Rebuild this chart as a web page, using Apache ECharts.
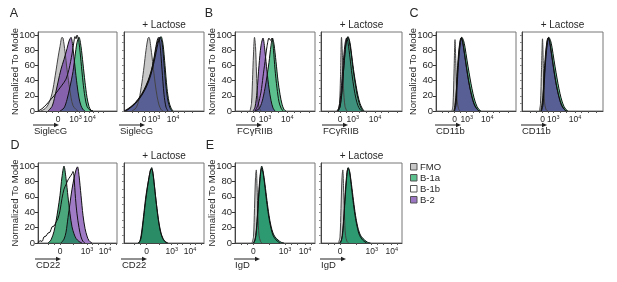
<!DOCTYPE html>
<html>
<head>
<meta charset="utf-8">
<script src="https://cdn.jsdelivr.net/npm/echarts@6/dist/echarts.min.js"></script>
<style>html,body{margin:0;padding:0;background:#fff}#main{width:617px;height:282px}</style>
</head>
<body>
<div id="main"></div>
<script>
// y ticks (normalized to mode), x tick labels
var yTicks = [0, 20, 40, 60, 80, 100];
var xTickNames = ['0', '10^3', '10^4'];
var legendNames = ['FMO', 'B-1a', 'B-1b', 'B-2'];
var legendColors = ['#c8c8c8', '#5cc08e', '#ffffff', '#9b76c2'];
var markers = ['SiglecG', 'SiglecG', 'FCγRIIB', 'FCγRIIB', 'CD11b', 'CD11b', 'CD22', 'CD22', 'IgD', 'IgD'];
// where 0, 10^3, 10^4 sit on each plot's channel scale
var xTickPos = [[20, 37.5, 51.5], [20, 30, 49], [18.3, 30, 52.3], [19, 31.7, 54], [18.5, 30.7, 51.3],
                [20.7, 31.3, 53], [22, 49, 67], [22.7, 47.7, 66], [18.3, 50, 70], [19, 50.7, 70.7]];

// histograms, [channel, % of mode]
// A: SiglecG
var aL_fmo = [[3,0],[7,3],[10,8],[13,18],[15,29],[18,53],[20,70],[22,85],[24,97],[25,96],[27,78],[29,55],[31,35],[33,18],[35,7],[38,2],[40,0]];
var aL_b1a = [[22,0],[26,4],[29,15],[32,32],[35,52],[37,72],[39,90],[41,97],[43,85],[45,62],[47,38],[49,18],[51,6],[53,1],[55,0]];
var aL_b1b = [[0,0],[4,3],[8,8],[12,14],[16,20],[20,27],[24,34],[28,42],[31,55],[34,75],[36,92],[37,98],[38,95],[39,100],[41,90],[43,65],[45,38],[47,18],[49,6],[52,1],[55,0]];
var aL_b2 = [[10,0],[14,6],[17,20],[20,38],[23,55],[26,68],[29,82],[31,92],[33,97],[35,82],[37,58],[39,35],[41,17],[43,7],[45,2],[47,0]];
var aR_fmo = [[8,0],[12,4],[15,15],[18,38],[20,58],[22,80],[24,96],[25,97],[27,82],[29,60],[31,38],[33,20],[35,8],[37,2],[39,0]];
var aR_b1a = [[1,0],[5,3],[9,7],[13,12],[17,19],[21,28],[25,40],[28,53],[31,70],[33,83],[35,94],[37,98],[39,88],[41,60],[43,30],[45,12],[47,4],[49,0]];
var aR_b1b = [[2,0],[6,4],[10,9],[14,15],[18,22],[22,32],[26,46],[29,62],[31,78],[33,92],[34.5,97],[36,88],[38,55],[40,22],[42,5],[44,0]];
var aR_b2 = [[0,0],[4,3],[8,7],[12,12],[16,19],[20,28],[24,40],[27,52],[30,68],[32,82],[34,93],[36,97],[38,90],[40,62],[42,32],[44,13],[46,4],[48,0]];
// B: FCgRIIB
var bL_fmo = [[15,0],[16.5,10],[17.5,40],[18.5,75],[19.5,97],[20.5,85],[21.5,50],[22.5,20],[24,5],[26,0]];
var bL_b1a = [[20,0],[24,3],[27,12],[30,30],[32,46],[34,64],[36,86],[37.5,96],[39,88],[41,65],[43,40],[45,22],[47,9],[49,2],[51,0]];
var bL_b1b = [[20,0],[23,8],[26,25],[28,45],[30,65],[32,85],[34,96],[35.5,93],[37,96],[38.5,80],[40,55],[42,30],[44,12],[46,4],[48,0]];
var bL_b2 = [[18,0],[20,5],[22,25],[24,60],[26,86],[28,96],[30,78],[32,52],[34,30],[36,14],[38,4],[40,0]];
var bR_fmo = [[17,0],[18.5,10],[19.5,45],[20.5,97],[21.5,70],[22.5,30],[24,6],[26,0]];
var bR_b1a = [[17,0],[19,5],[21,25],[23,60],[25,88],[27,98],[29,90],[31,70],[33,50],[35,34],[37,20],[39,10],[41,4],[43,0]];
var bR_b1b = [[17,0],[19,6],[21,28],[23,62],[25,90],[26.5,97],[28,93],[30,78],[32,56],[34,38],[36,22],[38,11],[40,4],[42,0]];
var bR_b2 = [[16,0],[18,5],[20,25],[22,60],[24,88],[25.5,96],[27,90],[29,70],[31,48],[33,30],[35,16],[37,7],[39,2],[41,0]];
// C: CD11b
var cL_fmo = [[16,0],[17,8],[18,50],[19,94],[20,55],[21,15],[22.5,3],[24,0]];
var cL_b1a = [[18.5,0],[20,8],[21.5,42],[23,72],[24.5,90],[25.8,97],[27.5,93],[29,84],[31,67],[33,51],[35,36],[37,23],[39,13],[41,6],[43,2],[45,0]];
var cL_b1b = [[18,0],[20,20],[22,60],[24,90],[25.5,97],[27,88],[29,70],[31,52],[33,36],[35,24],[37,14],[39,7],[41,3],[43,0]];
var cL_b2 = [[18,0],[19.5,8],[21,45],[22.5,75],[24,92],[25,96],[26.5,92],[28,80],[30,62],[32,45],[34,30],[36,18],[38,9],[40,4],[42,1],[44,0]];
var cR_fmo = [[17.5,0],[18.5,10],[19.5,55],[20.5,95],[21.5,50],[22.5,12],[24,2],[26,0]];
var cR_b1a = [[19.5,0],[21,8],[22.5,42],[24,72],[25.5,90],[26.8,97],[28.5,93],[30,84],[32,67],[34,51],[36,36],[38,23],[40,13],[42,6],[44,2],[46,0]];
var cR_b1b = [[19,0],[21,20],[23,60],[25,90],[26.5,97],[28,88],[30,70],[32,52],[34,36],[36,24],[38,14],[40,7],[42,3],[44,0]];
var cR_b2 = [[19,0],[20.5,8],[22,45],[23.5,75],[25,92],[26,96],[27.5,92],[29,80],[31,62],[33,45],[35,30],[37,18],[39,9],[41,4],[43,1],[45,0]];
// D: CD22
var dL_b1a = [[10,0],[13,4],[16,15],[18,28],[20,44],[22,62],[24,86],[26,100],[28,84],[30,60],[32,38],[34,21],[36,12],[38,6],[41,2],[44,0]];
var dL_b1b = [[0,0],[2,3],[4,2],[6,8],[8,9],[10,13],[12,14],[14,21],[16,22],[18,27],[20,32],[22,42],[24,58],[26,70],[28,76],[30,82],[32,86],[34,90],[35,93],[36,86],[37.5,58],[39,38],[41,20],[43,8],[45,2],[47,0]];
var dL_b2 = [[23,0],[26,5],[28,14],[30,33],[32,52],[34,70],[36,84],[38,95],[39.5,99],[41,88],[43,62],[45,36],[47,19],[49,9],[51,3],[54,0]];
var dR_b1a = [[14,0],[16,3],[18,18],[20,40],[22,62],[24,78],[26,92],[27.7,98],[29,90],[31,67],[33,45],[35,26],[37,13],[39,6],[41,2],[44,0]];
var dR_b1b = [[15,0],[17,6],[19,25],[21,48],[23,68],[25,85],[27,96],[28.5,94],[30,80],[32,55],[34,33],[36,17],[38,8],[40,3],[43,0]];
// E: IgD
var eL_fmo = [[17,0],[18.5,8],[19.5,45],[20.5,85],[21.3,95],[22,75],[23,35],[24,10],[25.5,2],[27,0]];
var eL_b1a = [[18,0],[20,4],[22,28],[24,70],[25.5,92],[26.7,100],[28,94],[30,76],[32,55],[34,36],[36,22],[38,13],[40,8],[43,4],[46,1],[49,0]];
var eL_b1b = [[19,0],[21,10],[23,45],[25,82],[26.5,97],[28,92],[30,72],[32,50],[34,32],[36,19],[38,10],[41,4],[45,0]];
var eR_fmo = [[17.5,0],[19,8],[20,45],[21,85],[21.8,95],[22.5,75],[23.5,35],[24.5,10],[26,2],[27.5,0]];
var eR_b1a = [[18.5,0],[20.5,4],[22.5,28],[24.5,70],[26,92],[27.2,98],[28.5,94],[30.5,76],[32.5,55],[34.5,36],[36.5,22],[38.5,13],[40.5,8],[43.5,4],[46.5,1],[49.5,0]];
var eR_b1b = [[19.5,0],[21.5,10],[23.5,45],[25.5,82],[27,97],[28.5,93],[30.5,72],[32.5,50],[34.5,32],[36.5,19],[38.5,10],[41.5,4],[45.5,0]];

var FMO = {fill: '#c8c8c8', line: '#444'};
var GREEN = {fill: '#5cc08e'};
var PURPLE = {fill: '#561899', op: 0.58};   // see-through, turns navy over green
var OPEN = {};

// plot boxes, left to right, top row then bottom row
var plots = [
  {left: 38, top: 32, width: 79, height: 79, ax: -5, layers: [[aL_fmo, FMO], [aL_b1a, GREEN], [aL_b2, PURPLE], [aL_b1b, OPEN]]},
  {left: 124, top: 32, width: 80, height: 79, ax: -5, lactose: true, layers: [[aR_fmo, FMO], [aR_b1a, GREEN], [aR_b2, PURPLE], [aR_b1b, OPEN]]},
  {left: 235, top: 32, width: 80, height: 79, ax: 1, layers: [[bL_fmo, FMO], [bL_b1a, GREEN], [bL_b2, PURPLE], [bL_b1b, OPEN]]},
  {left: 321, top: 32, width: 81, height: 79, ax: 1, lactose: true, layers: [[bR_fmo, FMO], [bR_b2, {fill: '#9b76c2'}], [bR_b1a, {fill: '#2e9670', op: 0.85}], [bR_b1b, OPEN]]},
  {left: 436, top: 32, width: 80, height: 79, ax: -1, layers: [[cL_fmo, FMO], [cL_b1a, GREEN], [cL_b2, PURPLE], [cL_b1b, OPEN]]},
  {left: 522, top: 32, width: 81, height: 79, ax: -1, lactose: true, layers: [[cR_fmo, FMO], [cR_b1a, GREEN], [cR_b2, PURPLE], [cR_b1b, OPEN]]},
  {left: 38, top: 163, width: 79, height: 80, ax: -3, layers: [[dL_b2, {fill: '#a07bc5'}], [dL_b1a, {fill: '#0f8a50', op: 0.75}], [dL_b1b, OPEN]]},
  {left: 124, top: 163, width: 80, height: 80, ax: -3, lactose: true, layers: [[dR_b1a, {fill: '#2a8c66'}], [dR_b1b, OPEN]]},
  {left: 235, top: 163, width: 80, height: 80, ax: -1, layers: [[eL_fmo, FMO], [eL_b1a, {fill: '#2e9a72'}], [eL_b1b, OPEN]]},
  {left: 321, top: 163, width: 81, height: 80, ax: -1, lactose: true, layers: [[eR_fmo, FMO], [eR_b1a, {fill: '#2e9a72'}], [eR_b1b, OPEN]]}
];

var font = 'Liberation Sans, Arial, Helvetica, sans-serif';
var ink = '#262626';
var grids = [], xAxes = [], yAxes = [], series = [], graphics = [];

plots.forEach(function (p, i) {
  var tp = xTickPos[i];
  var d = tp[2] - tp[1];
  var minor = [tp[0] - 12, tp[0] - 6, tp[0], (tp[0] + tp[1]) / 2, tp[1], tp[1] + d * 0.3, tp[1] + d * 0.6,
               tp[2], tp[2] + d * 0.3, tp[2] + d * 0.6, tp[2] + d].filter(function (v) { return v > 0 && v < p.width; });
  var bottom = p.top + p.height;

  grids.push({left: p.left, top: p.top, width: p.width, height: p.height, show: true,
              borderColor: '#777', borderWidth: 1, backgroundColor: 'transparent'});
  xAxes.push({
    gridIndex: i, type: 'value', min: 0, max: p.width,
    axisLine: {show: true, onZero: false, lineStyle: {color: '#444', width: 1}},
    axisTick: {show: true, customValues: minor, length: 2, lineStyle: {color: '#555'}},
    axisLabel: {
      customValues: tp, margin: 3, color: ink, fontFamily: font, hideOverlap: false,
      formatter: function (v) {
        var k = 0;
        for (var j = 1; j < tp.length; j++) if (Math.abs(tp[j] - v) < Math.abs(tp[k] - v)) k = j;
        var t = xTickNames[k].split('^');
        return t.length > 1 ? '{b|' + t[0] + '}{s|' + t[1] + '}' : '{b|' + t[0] + '}';
      },
      rich: {b: {fontSize: 8.5, lineHeight: 11, fontFamily: font, color: ink},
             s: {fontSize: 5.5, lineHeight: 6, verticalAlign: 'top', fontFamily: font, color: ink}}
    },
    splitLine: {show: false}
  });
  var first = !p.lactose;
  yAxes.push({
    gridIndex: i, type: 'value', min: 0, max: 104,
    axisLine: {show: true, lineStyle: {color: '#444', width: 1}},
    axisTick: {show: true, customValues: first ? yTicks : [0, 10, 20, 30, 40, 50, 60, 70, 80, 90, 100],
               length: first ? 3 : 2, lineStyle: {color: first ? '#333' : '#888'}},
    axisLabel: {show: first, customValues: yTicks, fontSize: 9.5, margin: 3, color: ink, fontFamily: font},
    splitLine: {show: false},
    name: first ? 'Normalized To Mode' : '', nameLocation: 'middle', nameGap: 18, nameMoveOverlap: false,
    nameTextStyle: {fontSize: 9.5, color: ink, fontFamily: font}
  });

  p.layers.forEach(function (L) {
    var st = L[1];
    var s = {
      type: 'line', xAxisIndex: i, yAxisIndex: i, data: L[0], smooth: 0.3, symbol: 'none',
      silent: true, animation: false,
      lineStyle: {color: st.line || '#111', width: 1}
    };
    if (st.fill) s.areaStyle = {color: st.fill, opacity: st.op || 1};
    series.push(s);
  });

  // marker arrow and name
  var ay = bottom + (i < 6 ? 14 : 16);
  var x0 = p.left + p.ax;
  graphics.push({type: 'line', shape: {x1: x0, y1: ay, x2: x0 + 22, y2: ay}, style: {stroke: '#222', lineWidth: 1}, silent: true});
  graphics.push({type: 'polygon', shape: {points: [[x0 + 21, ay - 2.2], [x0 + 26, ay], [x0 + 21, ay + 2.2]]}, style: {fill: '#222'}, silent: true});
  graphics.push({type: 'text', x: x0 + 1, y: ay + 6, style: {text: markers[i], fill: ink, font: '9.5px ' + font, textAlign: 'left', textVerticalAlign: 'middle'}, silent: true});
  if (p.lactose) {
    graphics.push({type: 'text', x: p.left + p.width / 2, y: p.top - 7, style: {text: '+ Lactose', fill: ink, font: '10px ' + font, textAlign: 'center', textVerticalAlign: 'middle'}, silent: true});
  }
});

// panel letters
[['A', 14, 14], ['B', 209, 14], ['C', 414, 14], ['D', 15, 146], ['E', 210, 146]].forEach(function (l) {
  graphics.push({type: 'text', x: l[1], y: l[2], style: {text: l[0], fill: ink, font: '12.5px ' + font, textAlign: 'center', textVerticalAlign: 'middle'}, silent: true});
});

// legend
legendNames.forEach(function (n, k) {
  var y = 163 + k * 11;
  graphics.push({type: 'rect', shape: {x: 410.5, y: y + 0.5, width: 6.5, height: 6.5}, style: {fill: legendColors[k], stroke: '#555', lineWidth: 1}, silent: true});
  graphics.push({type: 'text', x: 420, y: y + 4, style: {text: n, fill: ink, font: '9.5px ' + font, textAlign: 'left', textVerticalAlign: 'middle'}, silent: true});
});

var chart = echarts.init(document.getElementById('main'), null, {renderer: 'canvas'});
chart.setOption({
  backgroundColor: '#fff',
  animation: false,
  grid: grids,
  xAxis: xAxes,
  yAxis: yAxes,
  series: series,
  graphic: graphics
});
</script>
</body>
</html>
